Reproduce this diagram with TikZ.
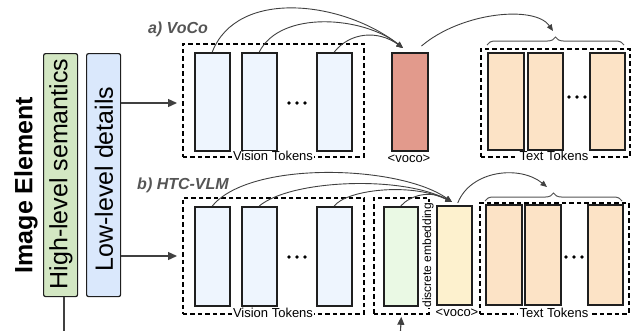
\documentclass[tikz,border=0pt]{standalone}
\usepackage{fontspec}
\setmainfont{Liberation Sans}
\usetikzlibrary{arrows.meta,decorations.pathreplacing,calc}

\definecolor{edge}{HTML}{1F1F1F}
\definecolor{arrowgray}{HTML}{404040}
\definecolor{semfill}{HTML}{D3E7C3}
\definecolor{detfill}{HTML}{DAE8FC}
\definecolor{visfill}{HTML}{EEF5FE}
\definecolor{vocofillA}{HTML}{E29A8C}
\definecolor{txtfill}{HTML}{FCE3C6}
\definecolor{vocofillB}{HTML}{FDF1CE}
\definecolor{discfill}{HTML}{EAF9E4}
\definecolor{labgray}{HTML}{555555}

\tikzset{
  token/.style={draw=edge, line width=1.5pt, minimum height=98pt, inner sep=0pt, anchor=north west},
  group/.style={draw=black, line width=1.8pt, dash pattern=on 4.5pt off 3pt, inner sep=0pt, anchor=north west},
  feature/.style={draw=edge, line width=1.2pt, rounded corners=2pt, minimum width=34pt, minimum height=243pt, inner sep=0pt, anchor=north west},
  tag/.style={font=\fontsize{13}{15}\selectfont, fill=white, inner xsep=1.5pt, inner ysep=0.5pt},
  link/.style={draw=arrowgray, line width=0.9pt, -{Triangle[length=6.5pt,width=5.5pt]}},
  feed/.style={draw=arrowgray, line width=1.3pt, -{Triangle[length=9pt,width=8pt]}},
  section/.style={font=\fontsize{16}{18}\selectfont\bfseries\itshape, text=labgray},
  curly/.style={draw=labgray, line width=1pt, decorate, decoration={brace, amplitude=8pt}},
  bigtext/.style={rotate=90, font=\fontsize{25}{28}\selectfont},
}

\begin{document}
\begin{tikzpicture}[x=1pt,y=-1pt]
\useasboundingbox (0,0) rectangle (633,330);

% ---------- image element and its two feature bars ----------
\node[bigtext, font=\fontsize{25}{28}\selectfont\bfseries] (elem) at (26,185) {Image Element};
\node[feature, fill=semfill] (sem) at (43,53) {};
\node[bigtext] (semlab) at (61,174) {High-level semantics};
\node[feature, fill=detfill] (det) at (86,53) {};
\node[bigtext] (detlab) at (104,179) {Low-level details};

\coordinate (semfoot) at (64,331);
\draw[draw=arrowgray, line width=1.1pt] (semfoot |- sem.south) -- (semfoot);

\coordinate (vinA) at (177,103);
\coordinate (vinB) at (177,256);
\draw[feed] (det.east |- vinA) -- (vinA);
\draw[feed] (det.east |- vinB) -- (vinB);

% ---------- a) VoCo ----------
\node[section] (titleA) at (178,29) {a) VoCo};

\node[group, minimum width=181pt, minimum height=113pt] (visA) at (182,43) {};
\node[token, fill=visfill, minimum width=35pt] (va1) at (194,52) {};
\node[token, fill=visfill, minimum width=35pt] (va2) at (241,52) {};
\node[token, fill=visfill, minimum width=35pt] (va3) at (316,52) {};
\foreach \x in {289,297,305} \fill (\x,103) circle (1.8pt);
\node[tag] (visAlab) at (273,156) {Vision Tokens};

\node[token, fill=vocofillA, minimum width=36pt] (vocoA) at (391,52) {};
\node[tag] (vocoAlab) at (409,159) {<voco>};

\node[group, minimum width=149pt, minimum height=108pt] (txtA) at (480,48) {};
\node[token, fill=txtfill, minimum width=36pt, minimum height=97pt] (ta1) at (487,52) {};
\node[token, fill=txtfill, minimum width=35pt, minimum height=97pt] (ta2) at (527,52) {};
\node[token, fill=txtfill, minimum width=35pt, minimum height=97pt] (ta3) at (589,52) {};
\foreach \x in {569,577,585} \fill (\x,97) circle (1.8pt);
\node[tag] (txtAlab) at (554,156) {Text Tokens};

\coordinate (braceAl) at (487,45);
\coordinate (braceAr) at (624,45);
\draw[curly] (braceAl) -- (braceAr);

\coordinate (inA) at (403,48);
\draw[link] (va1.north) .. controls +(25,-64) and +(-60,-47) .. (inA);
\draw[link] (va2.north) .. controls +(21,-42) and +(-40,-32) .. (inA);
\draw[link] (va3.north) .. controls +(16,-20) and +(-25,-18) .. (inA);

\coordinate (tipA) at (553,31);
\draw[link] ($(vocoA.north east)+(-7,-6)$) .. controls +(40,-34) and +(-18,-26) .. (tipA);

% ---------- b) HTC-VLM ----------
\node[section] (titleB) at (183,185) {b) HTC-VLM};

\node[group, minimum width=181pt, minimum height=116pt] (visB) at (182,197) {};
\node[token, fill=visfill, minimum width=35pt, minimum height=99pt] (vb1) at (194,206) {};
\node[token, fill=visfill, minimum width=35pt, minimum height=99pt] (vb2) at (241,206) {};
\node[token, fill=visfill, minimum width=35pt, minimum height=99pt] (vb3) at (316,206) {};
\foreach \x in {289,297,305} \fill (\x,257) circle (1.8pt);
\node[tag] (visBlab) at (273,313) {Vision Tokens};

\node[group, minimum width=55pt, minimum height=116pt] (disc) at (373,197) {};
\node[token, fill=discfill, minimum width=34pt, minimum height=99pt] (emb) at (383,206) {};
\node[tag, rotate=90, font=\fontsize{12}{14}\selectfont, inner xsep=0.5pt, inner ysep=1pt] (disclab) at (428,255) {discrete embedding};

\node[token, fill=vocofillB, minimum width=35pt, minimum height=99pt] (vocoB) at (436,205) {};
\node[tag] (vocoBlab) at (457,313) {<voco>};

\node[group, minimum width=149pt, minimum height=111pt] (txtB) at (479,202) {};
\node[token, fill=txtfill, minimum width=36pt, minimum height=100pt] (tb1) at (485,204) {};
\node[token, fill=txtfill, minimum width=36pt, minimum height=100pt] (tb2) at (524,204) {};
\node[token, fill=txtfill, minimum width=35pt, minimum height=100pt] (tb3) at (587,204) {};
\foreach \x in {566,574,582} \fill (\x,257) circle (1.8pt);
\node[tag] (txtBlab) at (554,313) {Text Tokens};

\coordinate (braceBl) at (485,201);
\coordinate (braceBr) at (622,201);
\draw[curly] (braceBl) -- (braceBr);

\coordinate (inB) at (452,202);
\draw[link] (vb1.north) .. controls +(38,-46) and +(-52,-37) .. (inB);
\draw[link] (vb2.north) .. controls +(31,-26) and +(-52,-27) .. (inB);
\draw[link] (vb3.north) .. controls +(12,-16) and +(-42,-20) .. (inB);
\draw[link] (emb.north) .. controls +(10,-11) and +(-22,-12) .. (inB);

\coordinate (tipB) at (547,187);
\draw[link] ($(vocoB.north)+(3.5,-2)$) .. controls +(13,-33) and +(-27,-22) .. (tipB);

\coordinate (discfoot) at (400.5,331);
\draw[feed, line width=1.1pt, -{Triangle[length=8pt,width=7pt]}, shorten >=2pt] (discfoot) -- (disc.south);
\end{tikzpicture}
\end{document}
